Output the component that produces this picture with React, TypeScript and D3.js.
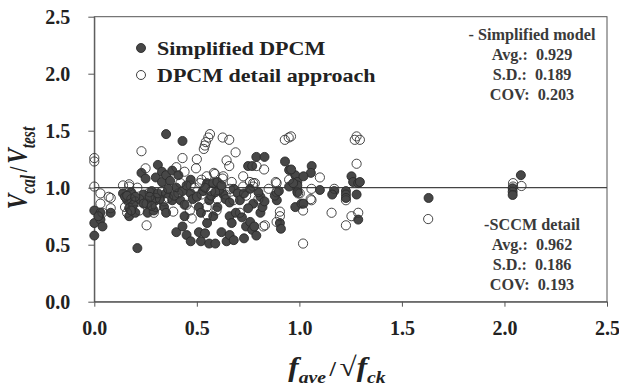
import * as d3 from "d3";
import { useEffect, useRef } from "react";

// Simplified DPCM (filled markers), [x, y]
const simplifiedPts: [number, number][] = [
  [0.0, 0.8], [0.0, 0.69], [0.0, 0.58], [0.03, 0.72], [0.04, 0.66], [0.03, 0.78], [0.08, 0.78], [0.02, 0.75],
  [0.14, 0.95], [0.16, 0.89], [0.17, 0.82], [0.17, 0.75], [0.2, 0.78], [0.21, 0.47], [0.24, 0.94], [0.26, 0.86],
  [0.26, 0.78], [0.3, 0.89], [0.29, 0.8], [0.15, 0.92], [0.18, 0.96], [0.22, 0.9], [0.19, 0.85], [0.23, 1.13],
  [0.25, 1.08], [0.31, 1.2], [0.3, 1.09], [0.33, 1.14], [0.33, 1.05], [0.35, 1.11], [0.28, 0.97], [0.27, 0.92],
  [0.16, 0.93], [0.2, 0.92], [0.24, 0.86], [0.28, 0.84], [0.32, 0.9], [0.31, 0.95], [0.18, 0.8],
  [0.35, 1.47], [0.43, 1.41], [0.34, 0.83], [0.35, 0.95], [0.38, 0.89], [0.35, 0.78], [0.4, 0.61], [0.43, 0.66],
  [0.44, 0.75], [0.45, 0.585], [0.47, 0.53], [0.42, 0.89], [0.47, 0.95], [0.38, 1.15], [0.41, 1.11], [0.37, 1.06],
  [0.47, 1.07], [0.4, 1.0], [0.43, 0.97], [0.45, 1.02], [0.39, 0.93], [0.36, 0.99], [0.44, 0.85], [0.48, 0.9],
  [0.51, 0.83], [0.52, 0.78], [0.51, 0.61], [0.52, 0.53], [0.56, 0.51], [0.55, 0.69], [0.54, 0.6], [0.59, 0.51],
  [0.58, 0.75], [0.56, 0.89], [0.6, 0.83], [0.63, 0.94], [0.62, 0.61], [0.645, 0.53], [0.66, 0.585], [0.68, 0.54],
  [0.66, 0.75], [0.67, 0.69], [0.69, 0.78], [0.55, 1.04], [0.58, 1.04], [0.6, 1.05], [0.68, 0.99], [0.53, 0.97],
  [0.57, 0.93], [0.61, 0.98], [0.64, 0.9], [0.5, 0.92], [0.54, 1.0], [0.62, 1.02], [0.66, 0.87], [0.59, 0.96],
  [0.7, 0.95], [0.71, 0.89], [0.73, 0.556], [0.74, 0.66], [0.76, 0.7], [0.77, 0.63], [0.78, 0.66], [0.775, 0.86],
  [0.81, 0.78], [0.82, 0.83], [0.81, 0.92], [0.79, 1.27], [0.83, 1.27], [0.75, 1.19], [0.77, 1.19], [0.73, 0.95],
  [0.76, 0.99], [0.8, 0.96], [0.75, 0.82], [0.83, 0.88], [0.72, 0.74], [0.79, 0.58],
  [0.89, 0.89], [0.905, 0.69], [0.91, 0.64], [0.95, 1.01], [0.98, 0.83], [1.01, 0.86], [0.99, 0.98], [0.93, 1.23],
  [0.95, 1.155], [0.98, 1.11], [0.99, 1.05], [0.99, 1.02], [0.97, 1.04], [0.99, 0.96], [0.96, 1.16], [0.88, 0.93],
  [0.9, 0.97], [1.06, 1.19], [1.056, 1.13], [1.02, 1.1], [1.1, 0.98], [1.17, 0.97], [1.16, 0.94], [1.227, 0.97],
  [1.227, 0.94], [1.227, 0.91], [1.254, 1.1], [1.262, 1.05], [1.287, 1.04], [1.295, 1.05], [1.279, 0.94],
  [1.02, 0.86], [1.287, 0.72],
  [1.63, 0.91], [2.08, 1.11], [2.04, 0.995], [2.04, 0.965], [2.04, 0.936],
];

// DPCM detail approach (open markers), [x, y]
const detailPts: [number, number][] = [
  [0.0, 1.26], [0.0, 1.23], [0.0, 1.01], [0.03, 0.95], [0.07, 0.92], [0.03, 0.86], [0.08, 0.91], [0.08, 0.82], [0.04, 0.78],
  [0.14, 1.02], [0.17, 1.03], [0.17, 1.01], [0.23, 1.32], [0.25, 1.17], [0.255, 0.67], [0.16, 0.78], [0.255, 0.86],
  [0.29, 0.78], [0.3, 0.83], [0.15, 0.83], [0.2, 0.88], [0.21, 1.0], [0.27, 0.96], [0.22, 0.8],
  [0.18, 0.9], [0.3, 0.91], [0.33, 0.97],
  [0.385, 0.79], [0.42, 1.04], [0.4, 1.18], [0.44, 1.14], [0.43, 1.26], [0.475, 0.73], [0.466, 0.8], [0.45, 0.85],
  [0.5, 1.25], [0.496, 1.17], [0.49, 1.0], [0.36, 0.91], [0.41, 0.95], [0.47, 1.02], [0.34, 0.88],
  [0.564, 1.47], [0.556, 1.44], [0.544, 1.4], [0.539, 1.37], [0.534, 1.34], [0.626, 1.44], [0.658, 1.42],
  [0.689, 1.31], [0.645, 1.24], [0.658, 1.19], [0.515, 1.04], [0.523, 0.94], [0.548, 0.83], [0.588, 1.12],
  [0.548, 1.1], [0.629, 1.1], [0.67, 1.05], [0.596, 0.8], [0.661, 0.99], [0.678, 0.89], [0.583, 1.13],
  [0.626, 1.08], [0.523, 1.07], [0.57, 0.97], [0.64, 0.94], [0.6, 0.9], [0.55, 0.76],
  [0.726, 1.1], [0.759, 1.05], [0.775, 1.04], [0.783, 1.04], [0.791, 1.19], [0.828, 1.16], [0.726, 1.01],
  [0.775, 1.01], [0.71, 0.78], [0.832, 0.67], [0.824, 0.66], [0.889, 1.04], [0.889, 0.96], [0.889, 0.7],
  [0.905, 0.79], [0.905, 0.75], [0.885, 1.05], [0.8, 0.9], [0.74, 0.93], [0.85, 0.99],
  [0.929, 1.42], [0.948, 1.44], [0.959, 1.45], [0.95, 1.07], [0.994, 0.95], [1.002, 0.95], [1.018, 0.8],
  [1.018, 0.51], [1.059, 0.99], [1.059, 0.89], [1.055, 0.9], [1.1, 1.09], [1.17, 0.99], [1.157, 0.78],
  [1.227, 0.89], [1.254, 0.75], [1.227, 0.67], [1.287, 0.78], [1.27, 1.42], [1.295, 1.42], [1.279, 1.45],
  [1.279, 1.21],
  [1.628, 0.725], [2.042, 1.04], [2.083, 1.015], [2.042, 1.01],
];

const xTicks = [0, 0.5, 1.0, 1.5, 2.0, 2.5];
const yTicks = [0, 0.5, 1.0, 1.5, 2.0, 2.5];
const legendLabels = ["Simplified DPCM", "DPCM detail approach"];
const statsTop = ["- Simplified model", "Avg.:  0.929", "S.D.:  0.189", "COV:  0.203"];
const statsBottom = ["-SCCM detail", "Avg.:  0.962", "S.D.:  0.186", "COV:  0.193"];

const W = 619, H = 386;
const margin = { top: 16.7, right: 12, bottom: 84.3, left: 94.3 };
const FONT = "'Liberation Serif', 'Times New Roman', serif";
const STRETCH = 1.16; // the original text is a bit wider than it is tall

export default function App() {
  const ref = useRef<SVGSVGElement>(null);

  useEffect(() => {
    const svg = d3.select(ref.current);
    svg.selectAll("*").remove();
    const iw = W - margin.left - margin.right;
    const ih = H - margin.top - margin.bottom;

    const x = d3.scaleLinear().domain([0, 2.5]).range([0, iw]);
    const y = d3.scaleLinear().domain([0, 2.5]).range([ih, 0]);

    const g = svg.append("g").attr("transform", `translate(${margin.left},${margin.top})`);

    // frame
    g.append("rect")
      .attr("width", iw).attr("height", ih)
      .attr("fill", "none").attr("stroke", "#555").attr("stroke-width", 1);

    const xAxis = g.append("g").attr("transform", `translate(0,${ih})`)
      .call(d3.axisBottom(x).tickValues(xTicks).tickSize(5).tickSizeOuter(0).tickPadding(14).tickFormat(d3.format(".1f")));
    const yAxis = g.append("g")
      .call(d3.axisLeft(y).tickValues(yTicks).tickSize(6).tickSizeOuter(0).tickPadding(18).tickFormat(d3.format(".1f")));
    [xAxis, yAxis].forEach((a) => {
      a.select(".domain").attr("stroke", "#555");
      a.selectAll("line").attr("stroke", "#555");
      a.selectAll("text")
        .attr("font-family", FONT).attr("font-weight", "bold")
        .attr("font-size", 20).attr("fill", "#222");
    });

    // reference line y = 1
    g.append("line")
      .attr("x1", 0).attr("x2", iw).attr("y1", y(1)).attr("y2", y(1))
      .attr("stroke", "#444").attr("stroke-width", 1.2);

    g.append("g").selectAll("circle").data(simplifiedPts).join("circle")
      .attr("cx", (d) => x(d[0])).attr("cy", (d) => y(d[1])).attr("r", 4.5)
      .attr("fill", "#474747").attr("stroke", "#2a2a2a").attr("stroke-width", 0.9);

    g.append("g").selectAll("circle").data(detailPts).join("circle")
      .attr("cx", (d) => x(d[0])).attr("cy", (d) => y(d[1])).attr("r", 4.6)
      .attr("fill", "none").attr("stroke", "#333").attr("stroke-width", 0.9);

    // legend
    const leg = svg.append("g");
    legendLabels.forEach((lab, i) => {
      const cy = 48 + i * 27;
      leg.append("circle").attr("cx", 141).attr("cy", cy).attr("r", 4.5)
        .attr("fill", i === 0 ? "#474747" : "none").attr("stroke", "#2a2a2a").attr("stroke-width", 0.9);
      leg.append("text").attr("transform", `translate(157,${cy + 6.5}) scale(${STRETCH},1)`).text(lab)
        .attr("font-family", FONT).attr("font-weight", "bold").attr("font-size", 19).attr("fill", "#222");
    });

    const stats = (lines: string[], cx: number, y0: number, dy: number) => {
      lines.forEach((l, i) => {
        svg.append("text").attr("x", cx).attr("y", y0 + i * dy).attr("text-anchor", "middle")
          .attr("xml:space", "preserve").style("white-space", "pre").text(l)
          .attr("font-family", FONT).attr("font-weight", "bold").attr("font-size", 16.2).attr("fill", "#3a3a3a");
      });
    };
    stats(statsTop, 532, 40, 20);
    stats(statsBottom, 532, 230, 20);

    // axis titles
    const xt = svg.append("text").attr("transform", `translate(337,376) scale(${STRETCH},1)`).attr("text-anchor", "middle")
      .attr("font-family", FONT).attr("font-weight", "bold").attr("font-style", "italic")
      .attr("font-size", 27).attr("fill", "#222");
    xt.append("tspan").text("f");
    xt.append("tspan").attr("dy", 7).attr("font-size", 17).text("ave");
    xt.append("tspan").attr("dy", -7).attr("dx", 3).attr("font-style", "normal").attr("font-size", 20).text("/");
    xt.append("tspan").attr("dx", 3).attr("font-style", "normal").text("√");
    xt.append("tspan").text("f");
    xt.append("tspan").attr("dy", 7).attr("font-size", 17).text("ck");

    const yt = svg.append("text").attr("transform", `translate(27,168) scale(1.3,1) rotate(-90)`).attr("text-anchor", "middle")
      .attr("font-family", FONT).attr("font-weight", "bold").attr("font-style", "italic")
      .attr("font-size", 23).attr("fill", "#222");
    yt.append("tspan").text("V");
    yt.append("tspan").attr("dy", 6).attr("font-size", 15.5).text("cal");
    yt.append("tspan").attr("dy", -6).attr("dx", 3).attr("font-style", "normal").attr("font-size", 19).text("/");
    yt.append("tspan").attr("dx", 3).text("V");
    yt.append("tspan").attr("dy", 6).attr("font-size", 15.5).text("test");
  }, []);

  return (
    <svg ref={ref} width={W} height={H} style={{ position: "absolute", left: 0, top: 0, background: "#fff" }} />
  );
}
